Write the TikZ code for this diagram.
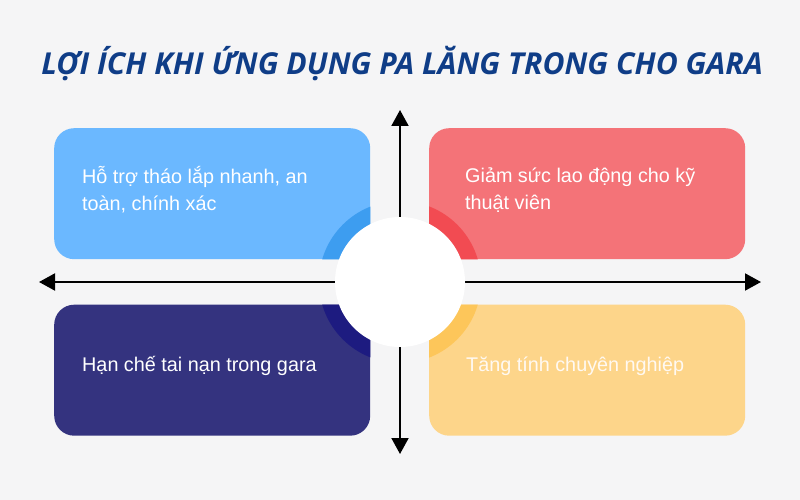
\documentclass[tikz,border=0pt]{standalone}
\usepackage{fontspec}
\setmainfont{Liberation Sans}
\newfontfamily\titlefont{Open Sans}
\usetikzlibrary{arrows.meta,positioning}
\definecolor{nen}{HTML}{F5F5F6}
\definecolor{tieude}{HTML}{0F3D87}
\definecolor{xanh}{HTML}{6BB8FF}
\definecolor{xanhdam}{HTML}{3D9DF0}
\definecolor{do}{HTML}{F47378}
\definecolor{dodam}{HTML}{F24B52}
\definecolor{tim}{HTML}{34337F}
\definecolor{timdam}{HTML}{1D1B80}
\definecolor{cam}{HTML}{FDD58A}
\definecolor{camdam}{HTML}{FDC65A}
\tikzset{
  card/.style={rounded corners=20pt, minimum width=316pt, minimum height=131pt, inner sep=0pt, anchor=north west},
  cardtext/.style={text=white, align=left, anchor=west, inner sep=0pt, font=\fontsize{19.8}{27}\selectfont},
  axis/.style={line width=2pt, {Triangle[length=16pt,width=17pt]}-{Triangle[length=16pt,width=17pt]}}
}
\begin{document}
\begin{tikzpicture}[x=1pt, y=-1pt]
                % Background
                \fill[nen] (0,0) rectangle (800,500);
                \useasboundingbox (0,0) rectangle (800,500);

                % Title
                \node[anchor=base, text=tieude, font=\titlefont\bfseries\itshape\fontsize{30.2}{34}\selectfont] (title) at (402,75) {LỢI ÍCH KHI ỨNG DỤNG PA LĂNG TRONG CHO GARA};

                % Boxes
                \coordinate (o) at (400,282);
                \node[card, fill=xanh] (hotro) at (54,128) {};
                \node[card, fill=do] (giamsuc) at (429,128) {};
                \node[card, fill=tim] (hanche) at (54,304.5) {};
                \node[card, fill=cam] (tang) at (429,304.5) {};

                % Quarter rings
                \foreach \b/\c in {hotro/xanhdam, giamsuc/dodam, hanche/timdam, tang/camdam} {
                  \begin{scope}
                    \clip[rounded corners=20pt] (\b.south west) rectangle (\b.north east);
                    \fill[\c] (o) circle (81pt);
                  \end{scope}
                }

                % Box texts
                \node[cardtext] (thotro) at ([xshift=28pt,yshift=4pt]hotro.west) {Hỗ trợ tháo lắp nhanh, an\\toàn, chính xác};
                \node[cardtext] (tgiamsuc) at ([xshift=36pt,yshift=4pt]giamsuc.west) {Giảm sức lao động cho kỹ\\thuật viên};
                \node[cardtext] (thanche) at ([xshift=28pt,yshift=4pt]hanche.west) {Hạn chế tai nạn trong gara};
                \node[cardtext, text=white!95!orange] (ttang) at ([xshift=37pt,yshift=4pt]tang.west) {Tăng tính chuyên nghiệp};

                % Axis lines
                \coordinate (left) at (39,282);
                \coordinate (right) at (761,282);
                \coordinate (top) at (400,110);
                \coordinate (bottom) at (400,454);
                \draw[axis] (left) -- (right);
                \draw[axis] (top) -- (bottom);

                % Centre circle
                \node[circle, fill=white, minimum size=130pt, inner sep=0pt] (tam) at (o) {};
              \end{tikzpicture}
\end{document}
